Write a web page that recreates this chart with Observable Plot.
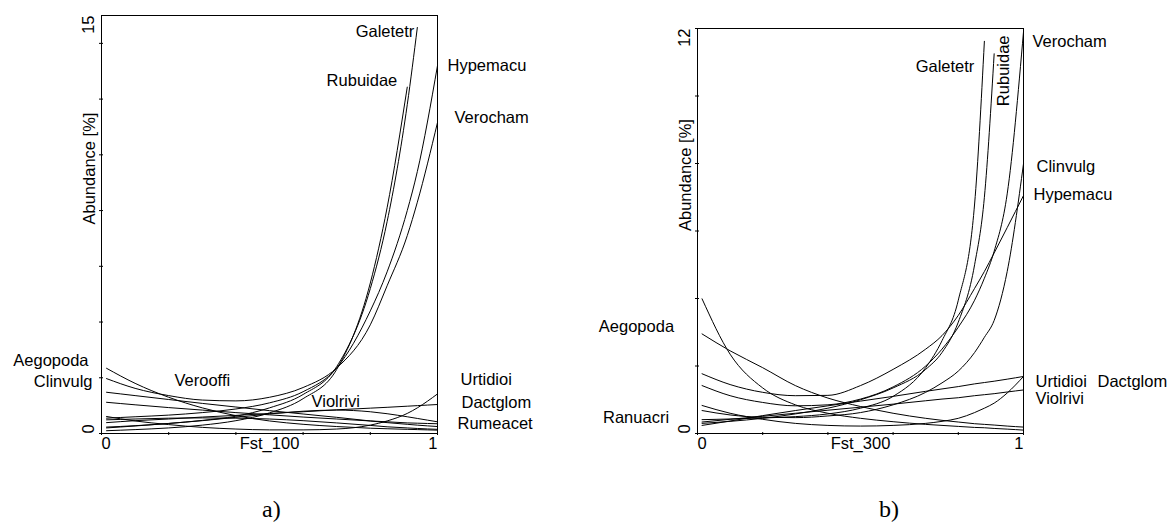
<!DOCTYPE html>
<html>
<head>
<meta charset="utf-8">
<script src="https://cdn.jsdelivr.net/npm/d3@7"></script>
<script src="https://cdn.jsdelivr.net/npm/@observablehq/plot@0.6"></script>
<style>
  body { margin: 0; background: #fff; }
  #wrap { position: relative; width: 1170px; height: 527px; overflow: hidden; }
  .panel { position: absolute; top: 0; }
  .cap { position: absolute; font-family: "Liberation Serif", "Times New Roman", serif; font-size: 24px; color: #000; }
</style>
</head>
<body>
<div id="wrap"></div>
<script>
// ---- Panel a: response curves along Fst_100 ----
const fst100X = [0.015, 0.1, 0.2, 0.3, 0.4, 0.5, 0.6, 0.7, 0.8, 0.85, 0.91, 0.94, 1.0];
const fst100Species = ["Aegopoda", "Verocham", "Clinvulg", "Rumeacet", "Hypemacu", "Urtidioi",
                       "Verooffi", "Dactglom", "Violrivi", "Galetetr", "Rubuidae"];
const fst100Abundance = [
  [2.34, 1.80, 1.30, 0.92, 0.64, 0.45, 0.33, 0.25, 0.19, 0.17, 0.15, 0.14, 0.12],
  [1.97, 1.62, 1.36, 1.20, 1.17, 1.30, 1.65, 2.35, 3.90, 5.30, 7.10, 8.30, 11.16],
  [1.48, 1.36, 1.22, 1.08, 0.95, 0.82, 0.70, 0.58, 0.45, 0.39, 0.33, 0.30, 0.25],
  [1.12, 1.03, 0.93, 0.84, 0.75, 0.67, 0.59, 0.52, 0.45, 0.42, 0.38, 0.37, 0.35],
  [0.55, 0.60, 0.66, 0.75, 0.88, 1.10, 1.50, 2.35, 4.40, 5.80, 8.00, 9.40, 13.20],
  [0.61, 0.45, 0.32, 0.22, 0.16, 0.13, 0.13, 0.16, 0.30, 0.45, 0.72, 0.92, 1.42],
  [0.49, 0.52, 0.55, 0.56, 0.55, 0.52, 0.46, 0.38, 0.29, 0.24, 0.20, 0.18, 0.15],
  [0.39, 0.46, 0.52, 0.59, 0.65, 0.72, 0.78, 0.85, 0.91, 0.94, 0.98, 1.00, 1.04],
  [0.20, 0.27, 0.36, 0.46, 0.58, 0.70, 0.80, 0.84, 0.78, 0.71, 0.60, 0.54, 0.42],
  [0.23, 0.28, 0.36, 0.47, 0.62, 0.92, 1.40, 2.40, 5.20, 7.60, 11.80, 14.57, null],
  [0.10, 0.14, 0.20, 0.30, 0.46, 0.74, 1.25, 2.30, 5.40, 8.10, 12.43, null, null]
];
const fst100YTicks = [0, 2, 4, 6, 8, 10, 12, 14];
const fst100YLabels = [0, 15];
const fst100XTicks = [0, 0.2, 0.4, 0.6, 0.8, 1];

// ---- Panel b: response curves along Fst_300 ----
const fst300X = [0.014, 0.1, 0.2, 0.3, 0.4, 0.5, 0.6, 0.7, 0.75, 0.8, 0.85, 0.88, 0.91, 0.95, 1.0];
const fst300Species = ["Aegopoda", "Ranuacri", "Hypemacu", "Verocham", "Galetetr", "Rubuidae",
                       "Clinvulg", "Urtidioi", "Dactglom", "Violrivi"];
const fst300Abundance = [
  [3.99, 2.35, 1.35, 0.85, 0.60, 0.45, 0.35, 0.27, 0.24, 0.21, 0.18, 0.17, 0.15, 0.13, 0.10],
  [2.95, 2.45, 1.95, 1.42, 1.05, 0.80, 0.60, 0.45, 0.39, 0.34, 0.29, 0.27, 0.25, 0.22, 0.19],
  [1.77, 1.45, 1.22, 1.12, 1.13, 1.42, 1.90, 2.50, 2.90, 3.50, 4.30, 4.80, 5.35, 6.10, 7.05],
  [1.42, 1.12, 0.92, 0.82, 0.85, 1.02, 1.38, 2.00, 2.50, 3.15, 3.95, 4.60, 5.40, 7.10, 11.90],
  [0.41, 0.43, 0.46, 0.50, 0.58, 0.75, 1.10, 1.95, 2.75, 3.95, 6.80, 11.62, null, null, null],
  [0.30, 0.36, 0.45, 0.58, 0.75, 1.00, 1.35, 1.90, 2.40, 3.30, 5.00, 7.00, 11.25, null, null],
  [0.68, 0.55, 0.48, 0.47, 0.52, 0.62, 0.85, 1.22, 1.50, 1.85, 2.40, 2.85, 3.35, 4.80, 7.99],
  [0.83, 0.60, 0.42, 0.30, 0.24, 0.22, 0.24, 0.30, 0.36, 0.45, 0.62, 0.75, 0.90, 1.20, 1.69],
  [0.24, 0.37, 0.53, 0.68, 0.82, 0.96, 1.10, 1.25, 1.32, 1.39, 1.47, 1.51, 1.55, 1.61, 1.69],
  [0.34, 0.42, 0.51, 0.60, 0.69, 0.78, 0.87, 0.97, 1.02, 1.06, 1.12, 1.15, 1.18, 1.23, 1.29]
];
const fst300YTicks = [0, 2, 4, 6, 8, 10, 12];
const fst300YLabels = [0, 12];
const fst300XTicks = [0, 0.2, 0.4, 0.6, 0.8, 1];

const xLabels = [0, 1];
const yTitle = "Abundance [%]";

// Long-format rows for Plot.line
function toRows(xs, species, values) {
  const rows = [];
  species.forEach((s, i) => values[i].forEach((v, j) => {
    if (v != null) rows.push({species: s, x: xs[j], y: v});
  }));
  return rows;
}

// Label placement: where on each curve the name is anchored, with pixel offsets
const labelsA = [
  {species: "Galetetr", at: "end", anchor: "end", dx: -3, dy: 4},
  {species: "Rubuidae", at: "end", anchor: "end", dx: -10, dy: -6},
  {species: "Hypemacu", at: "end", anchor: "start", dx: 10, dy: 0},
  {species: "Verocham", at: "end", anchor: "start", dx: 17, dy: -5},
  {species: "Aegopoda", at: "start", anchor: "end", dx: -18, dy: -8},
  {species: "Clinvulg", at: "start", anchor: "end", dx: -14, dy: -11},
  {species: "Verooffi", at: 3, anchor: "middle", dx: 0, dy: -37},
  {species: "Violrivi", at: 7, anchor: "middle", dx: -1, dy: -8},
  {species: "Urtidioi", at: "end", anchor: "start", dx: 23, dy: -14},
  {species: "Dactglom", at: "end", anchor: "start", dx: 24, dy: -2},
  {species: "Rumeacet", at: "end", anchor: "start", dx: 20, dy: 0}
];
const labelsB = [
  {species: "Verocham", at: "end", anchor: "start", dx: 9, dy: 10},
  {species: "Galetetr", at: "end", anchor: "end", dx: -10, dy: 25},
  {species: "Rubuidae", at: "end", anchor: "middle", dx: 10, dy: 17, rotate: -90},
  {species: "Clinvulg", at: "end", anchor: "start", dx: 13, dy: 3},
  {species: "Hypemacu", at: "end", anchor: "start", dx: 10, dy: -1},
  {species: "Aegopoda", at: "start", anchor: "end", dx: -28, dy: 28},
  {species: "Ranuacri", at: "start", anchor: "end", dx: -33, dy: 84},
  {species: "Urtidioi", at: "end", anchor: "start", dx: 12, dy: 5},
  {species: "Dactglom", at: "end", anchor: "start", dx: 74, dy: 5},
  {species: "Violrivi", at: "end", anchor: "start", dx: 12, dy: 9}
];

function panel({xs, species, values, yMax, yTicks, yLabels, xTicks, xTitle, labels,
                width, marginLeft, marginRight, marginTop}) {
  const rows = toRows(xs, species, values);
  const pointOf = (l) => {
    const pts = rows.filter(r => r.species === l.species);
    if (l.at === "end") return pts[pts.length - 1];
    if (l.at === "start") return pts[0];
    return pts[l.at];
  };
  const marks = [
    Plot.frame({stroke: "black", strokeWidth: 1}),
    // short tick marks crossing the axes; only the end values get numbers
    Plot.axisY({ticks: yTicks, tickSize: 4, tickFormat: () => "", label: null, tickPadding: 0, dx: 2}),
    Plot.axisX({ticks: xTicks, tickSize: 3, tickFormat: () => "", label: null, tickPadding: 0, dy: -1}),
    Plot.line(rows, {x: "x", y: "y", z: "species", stroke: "black", strokeWidth: 1, curve: "monotone-x"}),
    // y tick labels, rotated and aligned inside the axis span
    Plot.text([yLabels[0]], {y: d => d, text: d => String(d), frameAnchor: "left", dx: -13, rotate: -90, textAnchor: "start"}),
    Plot.text([yLabels[1]], {y: d => d, text: d => String(d), frameAnchor: "left", dx: -13, rotate: -90, textAnchor: "end"}),
    Plot.text([yTitle], {text: d => d, frameAnchor: "left", dx: -12, rotate: -90}),
    // x tick labels and title
    Plot.text([xLabels[0]], {x: d => d, text: d => String(d), frameAnchor: "bottom", dy: 15, textAnchor: "start"}),
    Plot.text([xLabels[1]], {x: d => d, text: d => String(d), frameAnchor: "bottom", dy: 15, textAnchor: "end"}),
    Plot.text([xTitle], {x: () => 0.5, text: d => d, frameAnchor: "bottom", dy: 15})
  ];
  for (const l of labels) {
    const p = pointOf(l);
    marks.push(Plot.text([p], {x: "x", y: "y", text: () => l.species, textAnchor: l.anchor,
      dx: l.dx, dy: l.dy, rotate: l.rotate || 0}));
  }
  return Plot.plot({
    width, height: 470, marginLeft, marginRight, marginTop, marginBottom: 37,
    x: {domain: [0, 1], axis: null},
    y: {domain: [0, yMax], axis: null},
    style: {fontFamily: "'Liberation Sans', Arial, sans-serif", fontSize: "16.5px", color: "black", background: "white", overflow: "visible"},
    marks
  });
}

const wrap = document.getElementById("wrap");

const a = panel({xs: fst100X, species: fst100Species, values: fst100Abundance, yMax: 15,
  yTicks: fst100YTicks, yLabels: fst100YLabels, xTicks: fst100XTicks, xTitle: "Fst_100",
  labels: labelsA, width: 580, marginLeft: 101, marginRight: 143, marginTop: 15});
a.classList.add("panel"); a.style.left = "0px";
wrap.appendChild(a);

const b = panel({xs: fst300X, species: fst300Species, values: fst300Abundance, yMax: 12,
  yTicks: fst300YTicks, yLabels: fst300YLabels, xTicks: fst300XTicks, xTitle: "Fst_300",
  labels: labelsB, width: 590, marginLeft: 117, marginRight: 147, marginTop: 28});
b.classList.add("panel"); b.style.left = "580px";
wrap.appendChild(b);

// Panel captions
for (const [txt, left] of [["a)", 262], ["b)", 879]]) {
  const d = document.createElement("div");
  d.className = "cap"; d.textContent = txt;
  d.style.left = left + "px"; d.style.top = "496px";
  wrap.appendChild(d);
}
</script>
</body>
</html>
